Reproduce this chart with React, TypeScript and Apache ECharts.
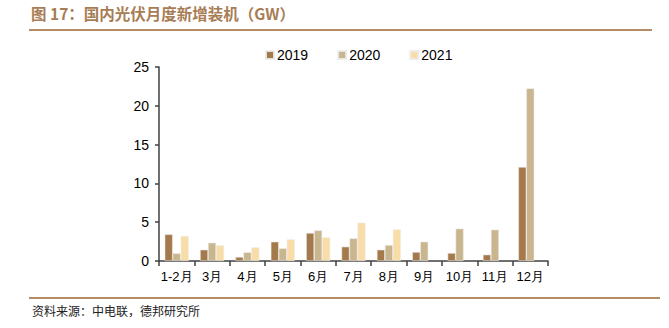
import React, { useEffect, useRef } from "react";
import * as echarts from "echarts";

const categories = ["1-2月", "3月", "4月", "5月", "6月", "7月", "8月", "9月", "10月", "11月", "12月"];
const s2019 = [3.44, 1.46, 0.52, 2.49, 3.61, 1.85, 1.46, 1.16, 1.03, 0.82, 12.11];
const s2020 = [0.99, 2.36, 1.12, 1.63, 3.95, 2.92, 2.06, 2.49, 4.17, 4.04, 22.25];
const s2021 = [3.22, 2.02, 1.76, 2.79, 3.05, 4.94, 4.08, null, null, null, null];
const yTicks = [0, 5, 10, 15, 20, 25];

const titleText = "图 17：国内光伏月度新增装机（GW）";
const sourceText = "资料来源：中电联，德邦研究所";

export default function App() {
  const ref = useRef<HTMLDivElement>(null);
  useEffect(() => {
    const chart = echarts.init(ref.current!, null, { renderer: "svg" });
    const font = "'Liberation Sans', Arial, sans-serif";
    const colors = ["#A47A4C", "#C9B58E", "#F9DDA8"];
    const mk = (name: string, data: any[], c: string) => ({
      name,
      type: "bar",
      data,
      barWidth: 8,
      barGap: "0%",
      itemStyle: { color: c, borderColor: "rgba(235,235,235,0.9)", borderWidth: 0.6 },
    });
    chart.setOption({
      animation: false,
      backgroundColor: "#fff",
      color: colors,
      grid: { left: 159, right: 121, top: 67, bottom: 67 },
      legend: {
        left: 260,
        top: 43,
        itemWidth: 8,
        itemHeight: 8,
        itemGap: 29,
        icon: "rect",
        textStyle: { fontFamily: font, fontSize: 14, color: "#000", padding: [0, 0, 0, -2] },
        data: ["2019", "2020", "2021"],
      },
      xAxis: {
        type: "category",
        data: categories,
        axisLine: { lineStyle: { color: "#404040", width: 1.5 } },
        axisTick: { show: true, length: 5, alignWithLabel: false, interval: 0, lineStyle: { color: "#404040", width: 1.5 } },
        axisLabel: { interval: 0, fontFamily: font, fontSize: 13, color: "#000", margin: 9 },
      },
      yAxis: {
        type: "value",
        min: yTicks[0],
        max: yTicks[yTicks.length - 1],
        interval: 5,
        axisLine: { show: true, lineStyle: { color: "#404040", width: 1.5 } },
        axisTick: { show: true, length: 4, lineStyle: { color: "#404040", width: 1.5 } },
        splitLine: { show: false },
        axisLabel: { fontFamily: font, fontSize: 14, color: "#000", margin: 10 },
      },
      series: [mk("2019", s2019, colors[0]), mk("2020", s2020, colors[1]), mk("2021", s2021, colors[2])],
      graphic: [
        {
          type: "text",
          left: 31,
          top: 5,
          style: {
            text: titleText,
            fontFamily: "'Noto Sans CJK SC', sans-serif",
            fontWeight: "bold",
            fontSize: 15.5,
            fill: "#A87D55",
          },
        },
        { type: "line", shape: { x1: 29, y1: 30, x2: 652, y2: 30 }, style: { stroke: "#B48C66", lineWidth: 2 } },
        { type: "line", shape: { x1: 29, y1: 298, x2: 660, y2: 298 }, style: { stroke: "#B48C66", lineWidth: 2 } },
        {
          type: "text",
          left: 32,
          top: 304,
          style: {
            text: sourceText,
            fontFamily: "'Noto Sans CJK SC', sans-serif",
            fontSize: 12,
            fill: "#222",
          },
        },
      ],
    });
    return () => chart.dispose();
  }, []);
  return <div ref={ref} style={{ width: 669, height: 328, position: "absolute", left: 0, top: 0 }} />;
}
